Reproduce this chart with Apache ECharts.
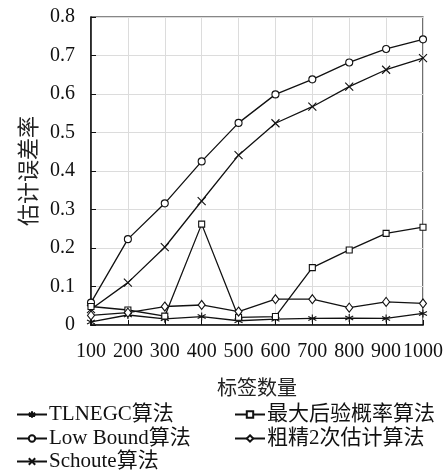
<!DOCTYPE html>
<html><head><meta charset="utf-8">
<script src="https://cdn.jsdelivr.net/npm/echarts@6/dist/echarts.min.js"></script>
<style>html,body{margin:0;padding:0;background:#fff}#c{width:446px;height:470px}</style>
</head><body><div id="c"></div>
<script>
const xValues = [100, 200, 300, 400, 500, 600, 700, 800, 900, 1000];
const yTicks = [0, 0.1, 0.2, 0.3, 0.4, 0.5, 0.6, 0.7, 0.8];
const seriesNames = ['TLNEGC算法', 'Low Bound算法', 'Schoute算法', '最大后验概率算法', '粗精2次估计算法'];
const tlnegc   = [0.008, 0.026, 0.016, 0.022, 0.011, 0.015, 0.017, 0.018, 0.017, 0.030];
const lowBound = [0.058, 0.223, 0.316, 0.425, 0.525, 0.599, 0.638, 0.682, 0.717, 0.742];
const schoute  = [0.041, 0.110, 0.202, 0.322, 0.441, 0.524, 0.567, 0.619, 0.663, 0.693];
const mapAlg   = [0.048, 0.039, 0.023, 0.262, 0.020, 0.022, 0.149, 0.195, 0.238, 0.254];
const coarse   = [0.025, 0.032, 0.048, 0.052, 0.035, 0.067, 0.067, 0.045, 0.060, 0.056];

const FONT = '"Liberation Serif", "Noto Sans CJK SC", serif';
const CJK = '"Noto Sans CJK SC", sans-serif';
const INK = '#111';
const symbols = [
  'path://M5,0L5,10M0.7,2.5L9.3,7.5M0.7,7.5L9.3,2.5',
  'circle',
  'path://M0,0L10,10M10,0L0,10',
  'rect',
  'diamond'
];
const sizes = [8, 7, 8, 6, [7, 9]];
const datasets = [tlnegc, lowBound, schoute, mapAlg, coarse];

const series = seriesNames.map((n, i) => ({
  name: n,
  type: 'line',
  data: xValues.map((x, k) => [x, datasets[i][k]]),
  symbol: symbols[i],
  symbolSize: sizes[i],
  showAllSymbol: true,
  lineStyle: { color: INK, width: 1.3 },
  itemStyle: { color: '#fff', borderColor: INK, borderWidth: 1.1 },
  emphasis: { disabled: true },
  animation: false,
  z: 3
}));

const legendPos = [
  { left: 16, top: 404 },
  { left: 16, top: 428 },
  { left: 16, top: 451 },
  { left: 234, top: 404 },
  { left: 234, top: 428 }
];
const legends = seriesNames.map((n, i) => ({
  data: [n],
  left: legendPos[i].left,
  top: legendPos[i].top,
  padding: 0,
  itemWidth: 30,
  itemHeight: 8,
  itemGap: 0,
  selectedMode: false,
  textStyle: { fontFamily: FONT, fontSize: 21, color: '#111', padding: [0, 0, 0, -3] }
}));

const chart = echarts.init(document.getElementById('c'), null, { renderer: 'canvas' });
chart.setOption({
  animation: false,
  backgroundColor: '#fff',
  grid: { left: 91, right: 23, top: 17, bottom: 145, show: true, borderColor: INK, borderWidth: 1.2, containLabel: false },
  legend: legends,
  xAxis: {
    type: 'value', min: 100, max: 1000, interval: 100,
    name: '标签数量', nameLocation: 'middle', nameGap: 52,
    nameTextStyle: { fontFamily: CJK, fontSize: 20, color: '#222' },
    axisLine: { lineStyle: { color: INK, width: 1.5 } },
    axisTick: { inside: true, length: 5, lineStyle: { color: INK } },
    axisLabel: { fontFamily: FONT, fontSize: 20, color: '#111', margin: 17, showMaxLabel: true, showMinLabel: true, hideOverlap: false,
      formatter: v => String(v) },
    splitLine: { show: true, lineStyle: { color: '#dcdcdc', width: 1 } }
  },
  yAxis: {
    type: 'value', min: 0, max: 0.8, interval: 0.1,
    name: '估计误差率', nameLocation: 'middle', nameGap: 49, nameRotate: 90,
    nameTextStyle: { fontFamily: CJK, fontSize: 22, color: '#222' },
    axisLine: { show: true, lineStyle: { color: INK, width: 1.5 } },
    axisTick: { show: true, inside: true, length: 5, lineStyle: { color: INK } },
    axisLabel: {
      fontFamily: FONT, fontSize: 20, color: '#111', margin: 16,
      formatter: v => (v === 0 ? '0' : v.toFixed(1))
    },
    splitLine: { show: true, lineStyle: { color: '#dcdcdc', width: 1 } }
  },
  series: series
});
</script></body></html>
